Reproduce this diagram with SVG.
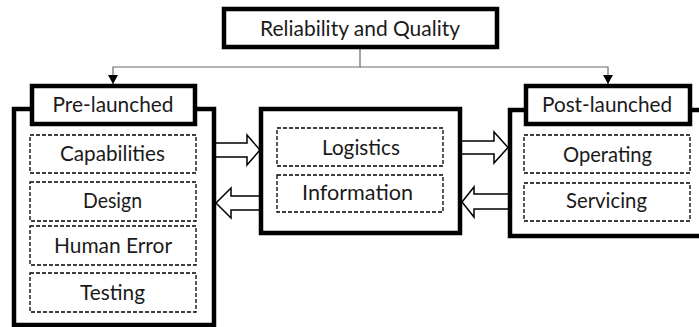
<svg xmlns="http://www.w3.org/2000/svg" width="699" height="327" viewBox="0 0 699 327">
  <style>
    .box { fill: #fff; stroke: #000; stroke-width: 4.5; }
    .item { fill: #fff; stroke: #000; stroke-width: 1.3; stroke-dasharray: 4 2; }
    .lbl { font-family: Lato, "Open Sans", "Liberation Sans", sans-serif; font-size: 21px; fill: #1a1a1a; text-anchor: middle; }
    .link { fill: none; stroke: #6a6a6a; stroke-width: 1.2; }
    .flow { fill: #fff; stroke: #000; stroke-width: 1.5; stroke-linejoin: miter; }
  </style>
  <defs>
    <marker id="tri" markerUnits="userSpaceOnUse" markerWidth="10" markerHeight="10" refX="9" refY="5" orient="auto">
      <path d="M0,0 L9,5 L0,10 z" fill="#000"/>
    </marker>
  </defs>

  <!-- hierarchy connectors and block arrows -->
  <g id="connectors">
    <path class="link" d="M360,49 V67 H113 V84" marker-end="url(#tri)"/>
    <path class="link" d="M360,67 H608 V84" marker-end="url(#tri)"/>
    <polygon class="flow" points="214,143 247,143 247,135 260,150 247,165 247,157 214,157"/>
    <polygon class="flow" points="260,196 231,196 231,188 216,203 231,218 231,210 260,210"/>
    <polygon class="flow" points="460,141 494,141 494,132 508,147.5 494,163 494,154 460,154"/>
    <polygon class="flow" points="510,194 474,194 474,187 462,202 474,217 474,209 510,209"/>
  </g>

  <g id="top">
    <rect class="box" x="224" y="9" width="273" height="38"/>
    <text class="lbl" x="360" y="36" textLength="200" lengthAdjust="spacingAndGlyphs">Reliability and Quality</text>
  </g>

  <g id="pre">
    <rect class="box" x="14" y="109" width="200" height="216"/>
    <rect class="box" x="32" y="86" width="163" height="38"/>
    <text class="lbl" x="113" y="112" textLength="121" lengthAdjust="spacingAndGlyphs">Pre-launched</text>
    <g id="capabilities">
      <rect class="item" x="30" y="135" width="166" height="38"/>
      <text class="lbl" x="112.5" y="161" textLength="105" lengthAdjust="spacingAndGlyphs">Capabilities</text>
    </g>
    <g id="design">
      <rect class="item" x="30" y="182" width="166" height="39"/>
      <text class="lbl" x="112.5" y="208" textLength="59" lengthAdjust="spacingAndGlyphs">Design</text>
    </g>
    <g id="human-error">
      <rect class="item" x="30" y="226" width="166" height="39"/>
      <text class="lbl" x="113" y="253" textLength="118" lengthAdjust="spacingAndGlyphs">Human Error</text>
    </g>
    <g id="testing">
      <rect class="item" x="30" y="273" width="166" height="39"/>
      <text class="lbl" x="112.5" y="300" textLength="65" lengthAdjust="spacingAndGlyphs">Testing</text>
    </g>
  </g>

  <g id="middle">
    <rect class="box" x="261" y="109" width="199" height="124"/>
    <g id="logistics">
      <rect class="item" x="277" y="128" width="166" height="38"/>
      <text class="lbl" x="361" y="155" textLength="78" lengthAdjust="spacingAndGlyphs">Logistics</text>
    </g>
    <g id="information">
      <rect class="item" x="277" y="175" width="166" height="37"/>
      <text class="lbl" x="357.5" y="200" textLength="111" lengthAdjust="spacingAndGlyphs">Information</text>
    </g>
  </g>

  <g id="post">
    <rect class="box" x="510" y="110" width="200" height="126"/>
    <rect class="box" x="526" y="86" width="164" height="38"/>
    <text class="lbl" x="607" y="112" textLength="130" lengthAdjust="spacingAndGlyphs">Post-launched</text>
    <g id="operating">
      <rect class="item" x="524" y="135" width="166" height="38"/>
      <text class="lbl" x="607.5" y="162" textLength="89" lengthAdjust="spacingAndGlyphs">Operating</text>
    </g>
    <g id="servicing">
      <rect class="item" x="524" y="183" width="166" height="38"/>
      <text class="lbl" x="606.5" y="208" textLength="81" lengthAdjust="spacingAndGlyphs">Servicing</text>
    </g>
  </g>
</svg>
